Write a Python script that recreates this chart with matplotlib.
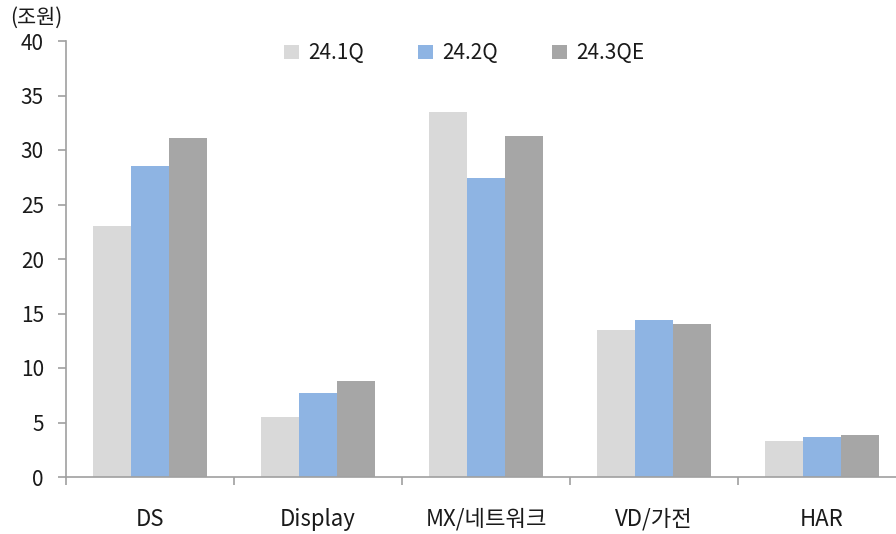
import matplotlib.pyplot as plt
import numpy as np

plt.rcParams['font.family'] = ['Noto Sans CJK KR', 'DejaVu Sans']

categories = ['DS', 'Display', 'MX/네트워크', 'VD/가전', 'HAR']
series_names = ['24.1Q', '24.2Q', '24.3QE']
q1 = [23.0, 5.5, 33.5, 13.5, 3.3]
q2 = [28.5, 7.7, 27.4, 14.4, 3.7]
q3e = [31.1, 8.8, 31.3, 14.0, 3.85]
colors = ['#D9D9D9', '#8EB4E3', '#A6A6A6']
txt = '#1A1A1A'

fig = plt.figure(figsize=(8.96, 5.34), dpi=100)
ax = fig.add_axes([66 / 896, 1 - 477 / 534, 840 / 896, 436 / 534])

x = np.arange(len(categories))
w = 0.225
for i, (vals, c, name) in enumerate(zip([q1, q2, q3e], colors, series_names)):
    ax.bar(x + (i - 1) * w, vals, width=w, color=c, label=name, zorder=2)

ax.set_xlim(-0.5, len(categories) - 0.5)
ax.set_ylim(0, 40)
ax.set_yticks(range(0, 41, 5))
ax.set_xticks(np.arange(-0.5, len(categories), 1.0))
ax.set_xticklabels([])
ax.set_xticks(x, minor=True)
ax.set_xticklabels(categories, minor=True, fontsize=16, color=txt, fontweight='medium')
ax.tick_params(axis='x', which='minor', length=0, pad=22)
ax.tick_params(axis='x', which='major', length=6, color='#A0A0A0', width=1.2)
ax.tick_params(axis='y', length=6, color='#A0A0A0', width=1.2, labelsize=15,
               labelcolor=txt, pad=10)
for lab in ax.get_yticklabels():
    lab.set_fontweight('medium')

for s in ['top', 'right']:
    ax.spines[s].set_visible(False)
for s in ['left', 'bottom']:
    ax.spines[s].set_color('#A0A0A0')
    ax.spines[s].set_linewidth(1.2)

fig.text(10 / 896, 1 - 18 / 534, '(조원)', fontsize=15, va='center', ha='left',
         color=txt, fontweight='medium')

leg = ax.legend(loc='upper center', bbox_to_anchor=(0.474, 1.04), ncol=3, frameon=False,
                prop={'size': 15, 'weight': 'medium'}, handlelength=0.7, handleheight=0.7,
                handletextpad=0.45, columnspacing=2.6, labelcolor=txt)

plt.savefig('out.png', dpi=100)
